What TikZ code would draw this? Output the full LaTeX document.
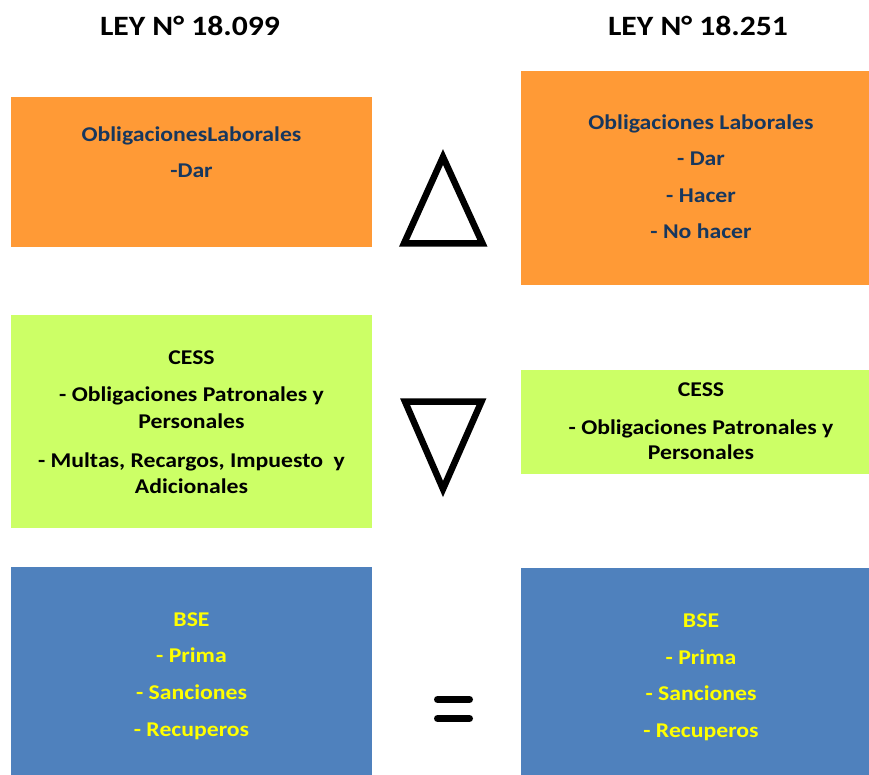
\documentclass[tikz,border=0pt]{standalone}
\usepackage{fontspec}
\setmainfont{Carlito}[FakeStretch=1.13]
\definecolor{orangebox}{HTML}{FF9A36}
\definecolor{greenbox}{HTML}{CCFF66}
\definecolor{bluebox}{HTML}{4F81BD}
\definecolor{navytext}{HTML}{17375E}
\definecolor{yellowtext}{HTML}{FFFF00}
\tikzset{
  box/.style={draw=none, inner sep=0pt, outer sep=0pt},
  ln/.style={anchor=base, inner sep=0pt, font=\fontsize{21}{25}\selectfont\bfseries},
  ttl/.style={anchor=base, inner sep=0pt, font=\fontsize{28}{32}\selectfont\bfseries},
  sym/.style={line width=6.5pt, miter limit=10},
}
\begin{document}
\begin{tikzpicture}[x=1pt, y=-1pt]
\useasboundingbox (0,0) rectangle (869,775);
% titles
\node[ttl] (t1) at (190,36) {LEY N° 18.099};
\node[ttl] (t2) at (698,36) {LEY N° 18.251};
% boxes
\node[box, fill=orangebox, minimum width=361pt, minimum height=150pt] (oL) at (191.5,172) {};
\node[box, fill=orangebox, minimum width=361pt, minimum height=214pt] (oR) at (701.5,178) {};
\node[box, fill=greenbox, minimum width=361pt, minimum height=213pt] (gL) at (191.5,421.5) {};
\node[box, fill=greenbox, minimum width=361pt, minimum height=104pt] (gR) at (701.5,422) {};
\node[box, fill=bluebox, minimum width=361pt, minimum height=208pt] (bL) at (191.5,671) {};
\node[box, fill=bluebox, minimum width=361pt, minimum height=207pt] (bR) at (701.5,671.5) {};
% orange texts
\node[ln, text=navytext] (ol1) at (191.5,142) {ObligacionesLaborales};
\node[ln, text=navytext] (ol2) at (191.5,178) {-Dar};
\node[ln, text=navytext] (or1) at (701,130) {Obligaciones Laborales};
\node[ln, text=navytext] (or2) at (701,166) {- Dar};
\node[ln, text=navytext] (or3) at (701,203) {- Hacer};
\node[ln, text=navytext] (or4) at (701,239) {- No hacer};
% green texts
\node[ln] (gl1) at (191.5,364) {CESS};
\node[ln] (gl2) at (191.5,401) {- Obligaciones Patronales y};
\node[ln] (gl3) at (191.5,428) {Personales};
\node[ln] (gl4) at (191.5,467) {- Multas, Recargos, Impuesto\ \ y};
\node[ln] (gl5) at (191.5,493) {Adicionales};
\node[ln] (gr1) at (701,396) {CESS};
\node[ln] (gr2) at (701,434) {- Obligaciones Patronales y};
\node[ln] (gr3) at (701,459) {Personales};
% blue texts
\node[ln, text=yellowtext] (bl1) at (191.5,626) {BSE};
\node[ln, text=yellowtext] (bl2) at (191.5,662) {- Prima};
\node[ln, text=yellowtext] (bl3) at (191.5,699) {- Sanciones};
\node[ln, text=yellowtext] (bl4) at (191.5,736) {- Recuperos};
\node[ln, text=yellowtext] (br1) at (701,627) {BSE};
\node[ln, text=yellowtext] (br2) at (701,664) {- Prima};
\node[ln, text=yellowtext] (br3) at (701,700) {- Sanciones};
\node[ln, text=yellowtext] (br4) at (701,737) {- Recuperos};
% symbols
\draw[sym] (404,243.5) -- (443,157) -- (482.5,243.5) -- cycle;
\draw[sym] (405,401.5) -- (443,489) -- (481.5,401.5) -- cycle;
\draw[line width=7pt, line cap=round] (437.5,699.5) -- (469.5,699.5);
\draw[line width=7pt, line cap=round] (437.5,718.5) -- (469.5,718.5);
\end{tikzpicture}
\end{document}
